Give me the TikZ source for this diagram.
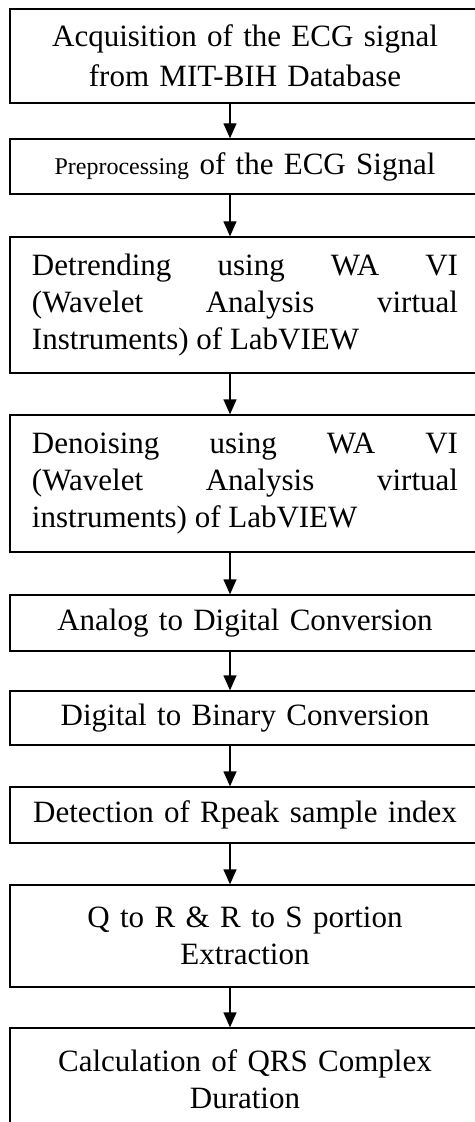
\documentclass[tikz,border=0pt]{standalone}
\usepackage{fontspec}
\setmainfont{Liberation Serif}
\usetikzlibrary{arrows.meta}

\begin{document}
\begin{tikzpicture}[x=0.5pt,y=-0.5pt,
  stage/.style={draw,line width=0.65pt,text width=213pt,inner xsep=11pt,inner ysep=0pt,
    font=\fontsize{15.5}{18.5}\selectfont,align=center},
  wide/.style={stage,align=justify},
  flow/.style={line width=0.65pt,-{Triangle[length=7.5pt,width=6.5pt]}}]
\path[use as bounding box] (0,0) rectangle (475,1122);
\clip (0,0) rectangle (475,1122);
\coordinate (ax) at (230,0);
\node[stage,minimum height=47pt,font=\fontsize{15.5}{20}\selectfont] (acq) at (245,56)
  {Acquisition of the ECG signal\\from MIT-BIH Database};
\node[stage,minimum height=27.5pt] (prep) at (245,166.5)
  {{\fontsize{12}{14}\selectfont Preprocessing} of the ECG Signal};
\node[wide,minimum height=68pt] (detr) at (245,305)
  {\tolerance=9999 Detrending using WA VI\linebreak (Wavelet Analysis virtual\linebreak Instruments) of LabVIEW};
\node[wide,minimum height=68.5pt] (deno) at (245,483.5)
  {\tolerance=9999 Denoising using WA VI\linebreak (Wavelet Analysis virtual\linebreak instruments) of LabVIEW};
\node[stage,minimum height=28pt] (adc) at (245,623) {Analog to Digital Conversion};
\node[stage,minimum height=27pt] (dbc) at (245,718) {Digital to Binary Conversion};
\node[stage,minimum height=28pt] (rpk) at (245,815) {Detection of Rpeak sample index};
\node[stage,minimum height=51pt] (qrs) at (245,936) {Q to R \& R to S portion\\Extraction};
\node[stage,minimum height=51pt] (dur) at (245,1079) {Calculation of QRS Complex\\Duration};
\draw[flow] (acq.south -| ax) -- (prep.north -| ax);
\draw[flow] (prep.south -| ax) -- (detr.north -| ax);
\draw[flow] (detr.south -| ax) -- (deno.north -| ax);
\draw[flow] (deno.south -| ax) -- (adc.north -| ax);
\draw[flow] (adc.south -| ax) -- (dbc.north -| ax);
\draw[flow] (dbc.south -| ax) -- (rpk.north -| ax);
\draw[flow] (rpk.south -| ax) -- (qrs.north -| ax);
\draw[flow] (qrs.south -| ax) -- (dur.north -| ax);
\end{tikzpicture}
\end{document}
